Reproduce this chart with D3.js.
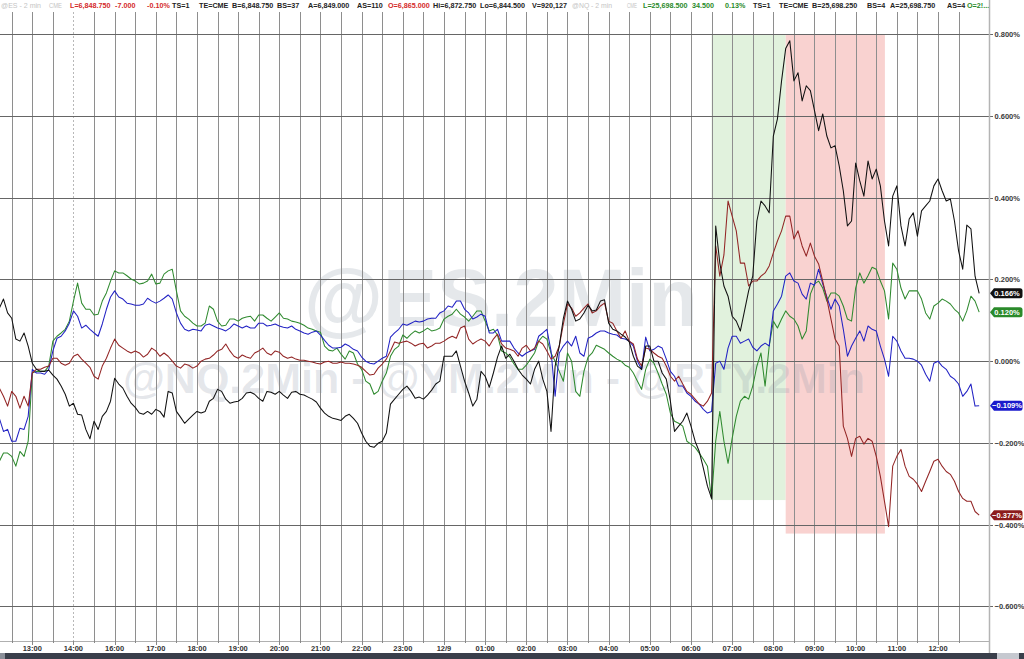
<!DOCTYPE html>
<html><head><meta charset="utf-8">
<script src="https://cdn.jsdelivr.net/npm/d3@7"></script>
<style>body{margin:0;background:#fff;overflow:hidden}svg{display:block}</style>
</head><body><svg id="c" width="1024" height="659"></svg>
<script>
// ---------- data ----------
const hourLabels = ["13:00","14:00","16:00","17:00","18:00","19:00","20:00","21:00","22:00","23:00","12/9",
  "01:00","02:00","03:00","04:00","05:00","06:00","07:00","08:00","09:00","10:00","11:00","12:00"];
const yTickValues = [0.8,0.6,0.4,0.2,0,-0.2,-0.4,-0.6];
// x is expressed in hour-slots of the chart's session axis (0 = 13:00), one value every 6 minutes
const startSlot = -0.8, slotStep = 0.1;

const esValues = [
 0.130,0.152,0.118,0.105,0.054,0.049,0.069,0.037,-0.005,-0.020,
 -0.025,-0.025,-0.022,-0.034,-0.044,-0.061,-0.081,-0.110,-0.103,-0.130,
 -0.132,-0.167,-0.190,-0.147,-0.167,-0.135,-0.123,-0.098,-0.042,-0.056,
 -0.066,-0.086,-0.103,-0.113,-0.127,-0.130,-0.123,-0.130,-0.118,-0.123,
 -0.137,-0.074,-0.078,-0.123,-0.137,-0.152,-0.142,-0.132,-0.123,-0.127,
 -0.123,-0.098,-0.091,-0.069,-0.074,-0.093,-0.103,-0.100,-0.098,-0.091,
 -0.078,-0.076,-0.081,-0.091,-0.098,-0.074,-0.076,-0.081,-0.074,-0.083,
 -0.091,-0.076,-0.074,-0.081,-0.083,-0.088,-0.093,-0.100,-0.115,-0.127,
 -0.135,-0.140,-0.142,-0.145,-0.135,-0.130,-0.140,-0.152,-0.176,-0.196,
 -0.208,-0.211,-0.201,-0.196,-0.176,-0.105,-0.093,-0.081,-0.069,-0.061,
 -0.074,-0.091,-0.088,-0.093,-0.083,-0.071,-0.056,-0.049,0.012,0.012,
 0.012,0.025,-0.012,-0.049,-0.078,-0.110,-0.093,-0.025,-0.037,-0.064,
 -0.029,0.010,0.037,0.007,0.017,0.000,-0.020,-0.034,-0.044,-0.056,
 -0.020,0.000,-0.044,-0.074,-0.172,-0.012,0.037,0.105,0.147,0.127,
 0.098,0.103,0.118,0.137,0.123,0.125,0.147,0.150,0.093,0.078,
 0.074,0.066,0.059,0.047,0.012,-0.012,-0.020,0.037,0.037,0.000,
 0.000,-0.029,-0.044,-0.098,-0.172,-0.159,-0.147,-0.127,-0.159,-0.196,
 -0.221,-0.262,-0.306,-0.336,0.331,0.240,0.184,0.159,0.110,0.098,
 0.074,0.123,0.172,0.208,0.343,0.392,0.380,0.363,0.551,0.593,
 0.686,0.765,0.784,0.686,0.706,0.637,0.674,0.662,0.613,0.564,
 0.605,0.551,0.522,0.527,0.478,0.417,0.331,0.343,0.485,0.441,
 0.404,0.490,0.446,0.470,0.429,0.343,0.282,0.404,0.429,0.331,
 0.282,0.348,0.363,0.306,0.368,0.380,0.392,0.429,0.446,0.417,
 0.392,0.397,0.343,0.270,0.225,0.333,0.324,0.208,0.166];

const nqValues = [
 -0.245,-0.225,-0.225,-0.233,-0.257,-0.221,-0.233,-0.196,-0.029,-0.025,
 -0.025,-0.025,-0.012,0.049,0.061,0.069,0.078,0.098,0.147,0.191,
 0.142,0.127,0.127,0.113,0.115,0.147,0.167,0.196,0.221,0.216,
 0.216,0.209,0.201,0.196,0.189,0.191,0.196,0.213,0.189,0.191,
 0.213,0.221,0.225,0.172,0.123,0.110,0.103,0.093,0.086,0.086,
 0.093,0.135,0.127,0.098,0.086,0.088,0.103,0.103,0.098,0.105,
 0.108,0.110,0.098,0.113,0.113,0.105,0.098,0.108,0.118,0.105,
 0.103,0.098,0.096,0.093,0.088,0.081,0.078,0.074,0.071,0.037,
 0.027,0.025,0.032,0.017,0.005,0.025,0.020,-0.007,-0.020,-0.049,
 -0.056,-0.081,-0.074,-0.049,-0.029,0.012,0.029,0.037,0.064,0.056,
 0.066,0.074,0.069,0.074,0.081,0.074,0.076,0.081,0.103,0.110,
 0.115,0.127,0.115,0.108,0.098,0.110,0.123,0.123,0.098,0.074,
 0.078,0.064,0.025,0.020,0.010,-0.007,-0.020,-0.020,-0.010,0.005,
 0.020,0.049,0.061,0.054,0.020,0.000,-0.025,-0.049,0.020,0.000,
 -0.074,-0.086,-0.025,0.010,0.020,0.039,0.034,0.029,0.020,0.012,
 0.005,0.000,-0.010,-0.015,-0.029,-0.049,-0.069,-0.020,0.005,-0.005,
 -0.029,-0.056,-0.081,-0.127,-0.147,-0.152,-0.159,-0.196,-0.203,-0.211,
 -0.225,-0.240,-0.257,-0.338,-0.196,-0.123,-0.196,-0.250,-0.189,-0.135,
 -0.098,-0.086,-0.093,-0.061,-0.012,0.020,-0.061,0.037,0.098,0.081,
 0.103,0.123,0.110,0.103,0.086,0.054,0.074,0.164,0.189,0.196,
 0.179,0.147,0.167,0.167,0.159,0.135,0.103,0.098,0.179,0.216,
 0.191,0.209,0.230,0.225,0.196,0.172,0.103,0.240,0.225,0.179,
 0.152,0.172,0.172,0.172,0.152,0.118,0.103,0.135,0.142,0.152,
 0.147,0.140,0.127,0.118,0.098,0.123,0.159,0.147,0.120];

const ymValues = [
 -0.140,-0.172,-0.167,-0.196,-0.196,-0.164,-0.167,-0.135,-0.020,-0.029,
 -0.029,-0.032,-0.020,0.025,0.056,0.061,0.074,0.093,0.123,0.110,
 0.081,0.088,0.078,0.069,0.061,0.091,0.127,0.157,0.172,0.157,
 0.152,0.142,0.140,0.137,0.137,0.140,0.154,0.147,0.142,0.147,
 0.154,0.162,0.152,0.118,0.093,0.078,0.074,0.078,0.076,0.074,
 0.088,0.091,0.086,0.081,0.078,0.074,0.081,0.091,0.086,0.081,
 0.086,0.081,0.081,0.093,0.093,0.086,0.088,0.091,0.086,0.083,
 0.081,0.086,0.078,0.074,0.069,0.066,0.071,0.074,0.064,0.051,
 0.039,0.032,0.032,0.034,0.042,0.037,0.029,0.025,0.010,0.000,
 -0.005,-0.007,0.000,0.007,0.012,0.059,0.069,0.078,0.091,0.088,
 0.093,0.098,0.096,0.098,0.103,0.105,0.105,0.118,0.123,0.135,
 0.132,0.147,0.147,0.127,0.118,0.103,0.108,0.115,0.110,0.069,
 0.069,0.078,0.049,0.049,0.049,0.032,0.020,0.012,0.020,0.025,
 0.029,0.061,0.069,0.078,0.025,-0.086,0.020,0.037,0.049,0.037,
 0.061,0.020,0.012,0.056,0.061,0.069,0.074,0.074,0.069,0.066,
 0.064,0.056,0.054,0.049,0.037,0.000,-0.020,0.059,0.025,0.029,
 0.037,0.032,0.005,-0.025,-0.037,-0.061,-0.061,-0.078,-0.086,-0.098,
 -0.105,-0.118,-0.127,-0.123,-0.005,0.000,-0.020,0.032,0.061,0.061,
 0.044,0.049,0.054,0.034,0.025,0.037,0.044,0.037,0.123,0.140,
 0.159,0.208,0.216,0.196,0.191,0.164,0.152,0.191,0.186,0.225,
 0.189,0.157,0.127,0.152,0.135,0.078,0.012,0.037,0.056,0.074,
 0.049,0.086,0.078,0.074,0.037,0.005,-0.037,0.061,0.049,0.025,
 0.007,0.007,0.005,0.000,-0.010,-0.032,-0.049,-0.005,0.000,-0.012,
 -0.020,-0.037,-0.044,-0.056,-0.086,-0.074,-0.056,-0.110,-0.109];

const rtyValues = [
 -0.066,-0.086,-0.110,-0.074,-0.086,-0.115,-0.086,-0.110,-0.029,-0.020,
 -0.020,-0.015,-0.012,0.007,0.007,-0.005,-0.010,-0.005,0.012,0.017,
 0.005,-0.005,-0.015,-0.037,-0.044,-0.012,0.007,0.032,0.054,0.039,
 0.032,0.025,0.020,0.025,0.020,0.010,0.017,0.032,0.025,0.012,
 0.020,0.012,0.000,-0.012,-0.017,-0.007,-0.010,-0.017,-0.012,0.000,
 0.005,0.007,0.015,0.025,0.029,0.042,0.025,0.012,0.007,0.015,
 0.010,0.007,0.020,0.025,0.032,0.020,0.015,0.025,0.022,0.012,
 0.007,0.010,0.005,0.002,0.002,0.000,-0.002,-0.005,-0.007,-0.002,
 0.000,-0.005,-0.005,-0.002,-0.005,-0.005,-0.007,-0.010,-0.015,-0.025,
 -0.034,-0.032,-0.017,-0.007,0.005,0.025,0.047,0.044,0.047,0.049,
 0.044,0.037,0.042,0.044,0.032,0.037,0.044,0.044,0.049,0.056,
 0.061,0.056,0.081,0.086,0.054,0.042,0.049,0.054,0.049,0.037,
 0.054,0.066,0.042,0.032,0.029,0.025,0.012,0.032,0.039,0.025,
 0.032,0.049,0.042,0.025,0.005,0.012,0.037,0.091,0.140,0.130,
 0.110,0.118,0.130,0.140,0.118,0.123,0.135,0.142,0.098,0.093,
 0.074,0.056,0.074,0.049,0.042,0.005,-0.012,0.032,0.029,0.020,
 0.012,0.007,-0.012,-0.037,-0.049,-0.037,-0.056,-0.074,-0.081,-0.093,
 -0.105,-0.110,-0.098,-0.078,0.282,0.208,0.260,0.392,0.355,0.319,
 0.240,0.240,0.184,0.196,0.196,0.208,0.216,0.233,0.265,0.294,
 0.319,0.355,0.355,0.299,0.319,0.282,0.257,0.289,0.257,0.238,
 0.196,0.152,0.103,0.054,0.037,-0.159,-0.189,-0.233,-0.189,-0.184,
 -0.203,-0.189,-0.196,-0.233,-0.282,-0.343,-0.405,-0.257,-0.233,-0.216,
 -0.257,-0.282,-0.289,-0.301,-0.319,-0.294,-0.270,-0.245,-0.240,-0.257,
 -0.270,-0.277,-0.294,-0.319,-0.336,-0.343,-0.343,-0.368,-0.377];

const seriesNames = ["@NQ","@YM","@RTY","@ES"];
const seriesColors = ["#2f8a2f","#2222c4","#932525","#111111"];
const badgeColors = ["#2a8a2a","#1a1acc","#8c1c1c","#111111"];
const seriesData = [nqValues, ymValues, rtyValues, esValues];

// highlighted periods
const zoneFrom = [16.5, 18.3];
const zoneTo = [18.3, 20.71];
const zoneTop = [0.8, 0.8];
const zoneBottom = [-0.34, -0.422];
const zoneFill = ["#e1f2dd", "#f9d2d0"];

// header quote line: text, colour, left x, forced width (0 = natural)
const headerItems = [
 ["@ES - 2 min","#c4c4c4",1,40],["CME","#c4c4c4",49,13],["L=6,848.750","#d42a2a",70,0],["-7.000","#d42a2a",115,0],
 ["-0.10%","#d42a2a",147,0],["TS=1","#222",172,0],["TE=CME","#222",199,0],["B=6,848.750","#222",232,0],
 ["BS=37","#222",277,0],["A=6,849.000","#222",308,0],["AS=110","#222",357,0],["O=6,865.000","#d42a2a",388,0],
 ["Hi=6,872.750","#222",433,0],["Lo=6,844.500","#222",480,0],["V=920,127","#222",532,0],
 ["@NQ - 2 min","#c4c4c4",572,40],["CME","#c4c4c4",627,10],["L=25,698.500","#2a8a2a",643,0],["34.500","#2a8a2a",692,0],
 ["0.13%","#2a8a2a",725,0],["TS=1","#222",753,0],["TE=CME","#222",779,0],["B=25,698.250","#222",812,0],
 ["BS=4","#222",867,0],["A=25,698.750","#222",890,0],["AS=4","#222",947,0],["O=2!...","#2a8a2a",967,0]];

// ---------- drawing ----------
const svg = d3.select("#c");
const W = 1024, H = 659, plotRight = 989, plotTop = 12, plotBottom = 641;
const x = d3.scaleLinear().domain([0, 22]).range([32.3, 938]);
const y = d3.scaleLinear().domain([-0.6, 0.8]).range([606.3, 34.3]);
const font = "'Liberation Sans', Arial, sans-serif";

svg.append("rect").attr("width", W).attr("height", H).attr("fill", "#fff");

svg.append("clipPath").attr("id","plotclip").append("rect")
  .attr("x",0).attr("y",plotTop).attr("width",plotRight).attr("height",plotBottom-plotTop);

// zones
svg.append("g").selectAll("rect").data(zoneFrom).join("rect")
  .attr("x",(d,i)=>x(zoneFrom[i])).attr("width",(d,i)=>x(zoneTo[i])-x(zoneFrom[i]))
  .attr("y",(d,i)=>y(zoneTop[i])).attr("height",(d,i)=>y(zoneBottom[i])-y(zoneTop[i]))
  .attr("fill",(d,i)=>zoneFill[i]);

// watermark
const wm = svg.append("g").attr("fill","#8a94a6").attr("fill-opacity",0.22)
  .attr("font-family",font).attr("font-weight","bold").attr("text-anchor","middle");
wm.append("text").attr("x",501).attr("y",326).attr("font-size",81).text("@ES.2Min");
wm.append("text").attr("x",494).attr("y",393).attr("font-size",43).text("@NQ.2Min - @YM.2Min - @RTY.2Min");

// vertical grid (every half hour slot)
const vSlots = d3.range(-1, 46).map(k => k*0.5);
svg.append("g").selectAll("line").data(vSlots).join("line")
  .attr("x1",d=>Math.round(x(d))+0.5).attr("x2",d=>Math.round(x(d))+0.5)
  .attr("y1",plotTop).attr("y2",plotBottom)
  .attr("stroke",d=>d===1?"#b8b8b8":"#8e8e8e")
  .attr("stroke-dasharray",d=>d===1?"2,2":null)
  .attr("stroke-width",1);

// horizontal grid
svg.append("g").selectAll("line").data(yTickValues).join("line")
  .attr("x1",0).attr("x2",plotRight+4)
  .attr("y1",d=>Math.round(y(d))+0.5).attr("y2",d=>Math.round(y(d))+0.5)
  .attr("stroke","#666").attr("stroke-width",1);

// series
const line = d3.line().x((d,i)=>x(startSlot+i*slotStep)).y(d=>y(d));
const lg = svg.append("g").attr("clip-path","url(#plotclip)");
seriesData.forEach((vals,k)=>{
  lg.append("path").datum(vals).attr("d",line).attr("fill","none")
    .attr("stroke",seriesColors[k]).attr("stroke-width",1.05).attr("stroke-linejoin","round");
});

// header
const hg = svg.append("g").attr("font-family",font).attr("font-size",7.2).attr("font-weight","bold");
hg.selectAll("text").data(headerItems).join("text")
  .attr("x",d=>d[2]).attr("y",8).attr("fill",d=>d[1])
  .attr("textLength",d=>d[3]>0?d[3]:null)
  .attr("lengthAdjust",d=>d[3]>0?"spacingAndGlyphs":null)
  .attr("font-weight",d=>d[3]>0?"normal":null)
  .text(d=>d[0]);

// x axis
svg.append("line").attr("x1",0).attr("x2",plotRight).attr("y1",641.5).attr("y2",641.5)
  .attr("stroke","#b0b0b0");
svg.append("g").selectAll("line").data(vSlots).join("line")
  .attr("x1",d=>Math.round(x(d))+0.5).attr("x2",d=>Math.round(x(d))+0.5)
  .attr("y1",641).attr("y2",d=>Number.isInteger(d)?645:643).attr("stroke","#888");
svg.append("g").attr("font-family",font).attr("font-size",7.5).attr("font-weight","bold")
  .attr("fill","#333").attr("text-anchor","middle")
  .selectAll("text").data(hourLabels).join("text")
  .attr("x",(d,i)=>x(i)).attr("y",651).text(d=>d);

// bottom scrollbar
svg.append("rect").attr("x",0).attr("y",653).attr("width",W).attr("height",6).attr("fill","#3a3f4b");
svg.append("rect").attr("x",0).attr("y",653).attr("width",5).attr("height",6).attr("fill","#8a8f99");
svg.append("rect").attr("x",997).attr("y",653).attr("width",22).attr("height",6).attr("fill","#c6c9d0");

// right axis
svg.append("line").attr("x1",plotRight+0.5).attr("x2",plotRight+0.5).attr("y1",0).attr("y2",653)
  .attr("stroke","#b4b4b4").attr("stroke-width",1.5);
svg.append("g").attr("font-family",font).attr("font-size",7.5).attr("font-weight","bold").attr("fill","#3a3a3a")
  .selectAll("text").data(yTickValues).join("text")
  .attr("x",994.5).attr("y",d=>y(d)+3).text(d=>d3.format(".3f")(d)+"%");

// last value badges
const bg = svg.append("g");
seriesData.forEach((vals,k)=>{
  const v = vals[vals.length-1], yc = y(v);
  bg.append("path")
    .attr("d",`M990,${yc} L994,${yc-5} L1020,${yc-5} Q1022.5,${yc-5} 1022.5,${yc-2.5} L1022.5,${yc+2.5} Q1022.5,${yc+5} 1020,${yc+5} L994,${yc+5} Z`)
    .attr("fill",badgeColors[k]);
  bg.append("text").attr("x",1007).attr("y",yc+2.8).attr("text-anchor","middle")
    .attr("font-family",font).attr("font-size",7.5).attr("font-weight","bold").attr("fill","#fff")
    .text(d3.format(".3f")(v)+"%");
});
</script></body></html>
